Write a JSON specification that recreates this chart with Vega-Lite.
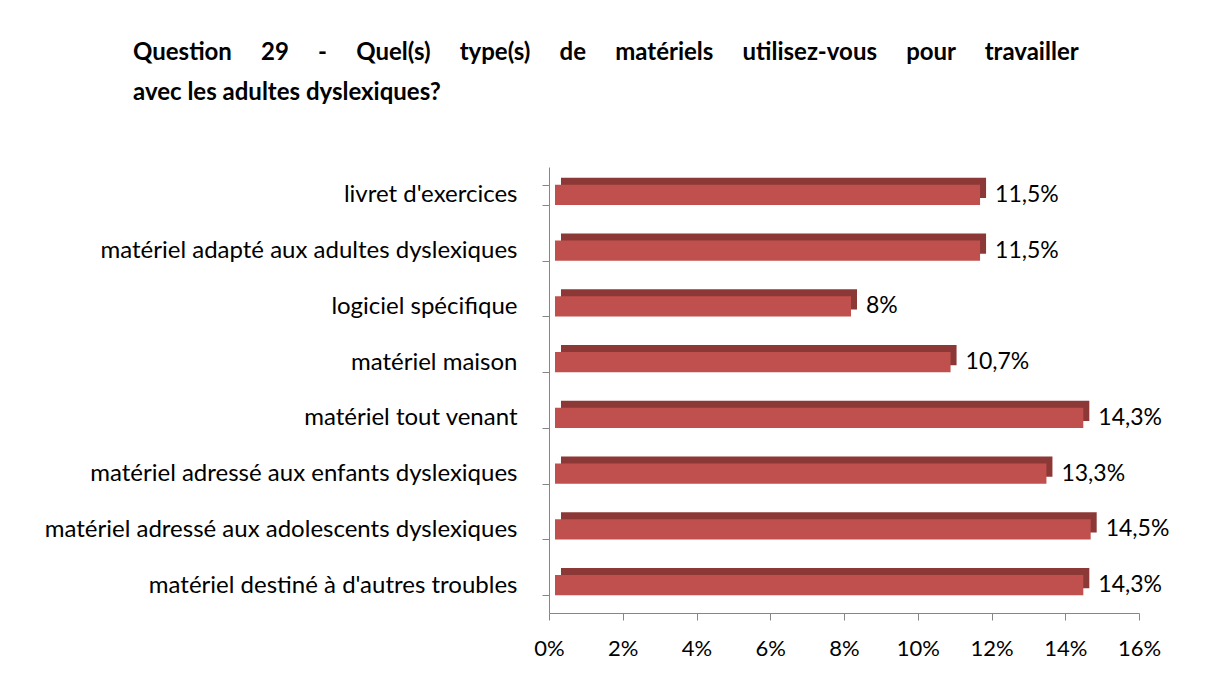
{
  "$schema": "https://vega.github.io/schema/vega-lite/v6.json",
  "width": 590,
  "height": 446,
  "autosize": {"type": "none"},
  "padding": {"left": 549, "top": 167, "right": 69, "bottom": 65},
  "background": "white",
  "title": {
    "text": ["Question\u00a0\u00a0\u00a0\u00a0 29\u00a0\u00a0\u00a0\u00a0 -\u00a0\u00a0\u00a0\u00a0 Quel(s)\u00a0\u00a0\u00a0\u00a0 type(s)\u00a0\u00a0\u00a0\u00a0 de\u00a0\u00a0\u00a0\u00a0 matériels\u00a0\u00a0\u00a0\u00a0 utilisez-vous\u00a0\u00a0\u00a0\u00a0 pour\u00a0\u00a0\u00a0\u00a0 travailler", "avec les adultes dyslexiques?"],
    "anchor": "start",
    "frame": "group",
    "dx": -416,
    "offset": 50,
    "font": "Lato",
    "fontSize": 24,
    "fontWeight": "bold",
    "color": "#000000",
    "lineHeight": 40
  },
  "data": {
    "values": [
      {"cat": "livret d'exercices", "v": 11.5, "lbl": "11,5%"},
      {"cat": "matériel adapté aux adultes dyslexiques", "v": 11.5, "lbl": "11,5%"},
      {"cat": "logiciel spécifique", "v": 8, "lbl": "8%"},
      {"cat": "matériel maison", "v": 10.7, "lbl": "10,7%"},
      {"cat": "matériel tout venant", "v": 14.3, "lbl": "14,3%"},
      {"cat": "matériel adressé aux enfants dyslexiques", "v": 13.3, "lbl": "13,3%"},
      {"cat": "matériel adressé aux adolescents dyslexiques", "v": 14.5, "lbl": "14,5%"},
      {"cat": "matériel destiné à d'autres troubles", "v": 14.3, "lbl": "14,3%"}
    ]
  },
  "encoding": {
    "y": {
      "field": "cat",
      "type": "nominal",
      "sort": null,
      "title": null,
      "scale": {"paddingInner": 0.64, "paddingOuter": 0.32},
      "axis": {
        "tickBand": "extent",
        "domainColor": "#868686",
        "tickColor": "#868686",
        "tickSize": 7,
        "labelFont": "Lato",
        "labelFontSize": 24,
        "labelColor": "#000000",
        "labelPadding": 25,
        "labelLimit": 600
      }
    }
  },
  "layer": [
    {
      "mark": {"type": "bar", "color": "#8C3836", "yOffset": -7, "y2Offset": -7, "xOffset": 13, "x2Offset": 12},
      "encoding": {
        "x": {
          "field": "v",
          "type": "quantitative",
          "stack": null,
          "title": null,
          "scale": {"domain": [0, 16], "nice": false},
          "axis": {
            "values": [0, 2, 4, 6, 8, 10, 12, 14, 16],
            "labelExpr": "datum.value + '%'",
            "labelFlush": false,
            "labelOverlap": false,
            "grid": false,
            "domainColor": "#868686",
            "tickColor": "#868686",
            "tickSize": 7,
            "labelFont": "Lato",
            "labelFontSize": 22,
            "labelColor": "#000000",
            "labelPadding": 18
          }
        },
        "x2": {"datum": 0}
      }
    },
    {
      "mark": {"type": "bar", "color": "#C0504D", "xOffset": 7, "x2Offset": 6},
      "encoding": {
        "x": {"field": "v", "type": "quantitative", "stack": null},
        "x2": {"datum": 0}
      }
    },
    {
      "mark": {"type": "text", "align": "left", "dx": 22, "font": "Lato", "fontSize": 23, "color": "#000000"},
      "encoding": {
        "x": {"field": "v", "type": "quantitative"},
        "text": {"field": "lbl"}
      }
    }
  ],
  "config": {"view": {"stroke": null}}
}
